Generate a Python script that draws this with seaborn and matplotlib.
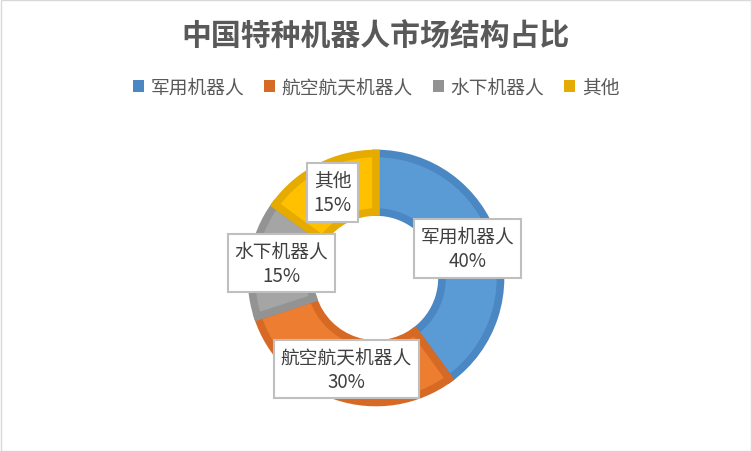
import numpy as np
import matplotlib
matplotlib.use("Agg")
import matplotlib.pyplot as plt
import seaborn as sns
from matplotlib.patches import Patch, Rectangle

# data
categories = ["军用机器人", "航空航天机器人", "水下机器人", "其他"]
shares = [40, 30, 15, 15]
fill_colors = ["#5B9BD5", "#ED7D31", "#A5A5A5", "#FFC000"]
edge_colors = ["#4B87C2", "#D66A24", "#939393", "#E6AB00"]

sns.set_theme(style="white")
plt.rcParams["font.family"] = ["Noto Sans CJK SC", "DejaVu Sans"]

W, H = 752, 452
fig = plt.figure(figsize=(W / 100, H / 100), dpi=100)
fig.patch.set_facecolor("white")
fig.patches.append(Rectangle((0.5 / W, 0.5 / H), 1 - 1.5 / W, 1 - 1.5 / H,
                             transform=fig.transFigure, fill=False,
                             edgecolor="#D9D9D9", linewidth=1))

# donut centre and radius in pixels
cx, cy, r_px = 376, H - 279, 124.5
half = 150
ax = fig.add_axes([(cx - half) / W, (cy - half) / H, 2 * half / W, 2 * half / H])

wedges, _ = ax.pie(shares, colors=fill_colors, startangle=90, counterclock=False,
                   radius=1.0, wedgeprops=dict(width=0.47, linewidth=5.5))
for w, ec in zip(wedges, edge_colors):
    w.set_edgecolor(ec)
    w.set_joinstyle("miter")

# pie() resets the limits, so set them afterwards
lim = half / r_px
ax.set_xlim(-lim, lim)
ax.set_ylim(-lim, lim)
ax.set_aspect("equal")
ax.axis("off")

label_r = 0.77
for w, cat, val in zip(wedges, categories, shares):
    mid = np.deg2rad((w.theta1 + w.theta2) / 2)
    x, y = label_r * np.cos(mid), label_r * np.sin(mid)
    ax.text(x, y, f"{cat}\n{val}%", ha="center", va="center", fontsize=13.5,
            color="#404040", linespacing=1.2,
            bbox=dict(boxstyle="square,pad=0.35", facecolor="white",
                      edgecolor="#BFBFBF", linewidth=1.5))

fig.text(0.5, 1 - 37 / H, "中国特种机器人市场结构占比", ha="center", va="center",
         fontsize=21.5, fontweight="bold", color="#595959")

handles = [Patch(facecolor=c, edgecolor="none") for c in edge_colors]
fig.legend(handles, categories, loc="center", bbox_to_anchor=(0.5, 1 - 88 / H),
           ncol=4, frameon=False, fontsize=13.5, labelcolor="#595959",
           handlelength=0.6, handleheight=0.6, handletextpad=0.35,
           columnspacing=1.05)

fig.savefig("out.png", dpi=100, facecolor="white")
